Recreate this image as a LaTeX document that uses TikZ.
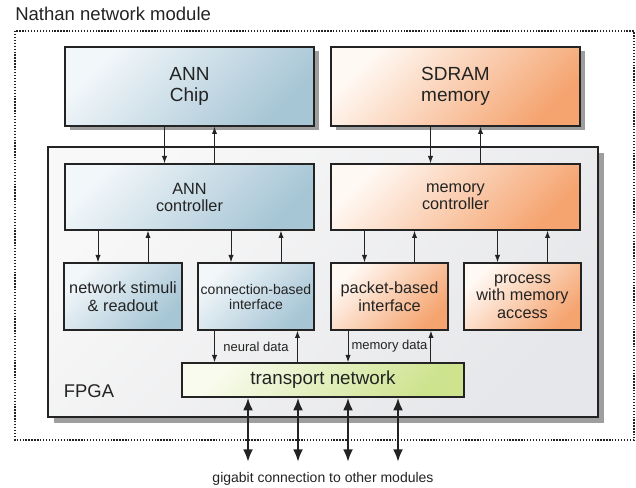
\documentclass[tikz,border=0pt]{standalone}
\usepackage{fontspec}
\setmainfont{Liberation Sans}
\usepackage{tikz}
\usetikzlibrary{arrows.meta,shadows}

\definecolor{annlight}{RGB}{242,247,250}
\definecolor{anndark}{RGB}{166,197,213}
\definecolor{memlight}{RGB}{255,249,244}
\definecolor{memdark}{RGB}{245,164,112}
\definecolor{netlight}{RGB}{249,251,238}
\definecolor{netdark}{RGB}{205,227,142}
\definecolor{fpgalight}{RGB}{248,248,248}
\definecolor{fpgadark}{RGB}{230,231,234}
\definecolor{ink}{RGB}{35,35,35}

\tikzset{
  box/.style={draw=ink, line width=1pt, text=ink, align=center, inner sep=0pt},
  annbox/.style={box, top color=annlight, bottom color=anndark, shading angle=45},
  membox/.style={box, top color=memlight, bottom color=memdark, shading angle=45},
  netbox/.style={box, top color=netlight, bottom color=netdark, shading angle=45},
  fpgabox/.style={box, top color=fpgalight, bottom color=fpgadark, shading angle=45,
    drop shadow={shadow xshift=4.5pt, shadow yshift=-4.5pt, fill=black!38, opacity=1}},
  chipbox/.style={minimum width=186.75pt, minimum height=59.25pt,
    font=\fontsize{14.25}{15.75}\selectfont,
    drop shadow={shadow xshift=3.75pt, shadow yshift=-3pt, fill=black!38, opacity=1}},
  ctlbox/.style={minimum width=186.75pt, minimum height=49.5pt,
    font=\fontsize{12.2}{12.75}\selectfont},
  subbox/.style={minimum width=87.75pt, minimum height=50.25pt,
    font=\fontsize{12.2}{13.2}\selectfont},
  arr/.style={draw=ink, line width=0.75pt, -{Latex[length=5.5pt,width=4pt]}},
  gbit/.style={draw=ink, line width=1.8pt, {Latex[length=9.5pt,width=7.5pt]}-{Latex[length=9.5pt,width=7.5pt]}},
  lbl/.style={text=ink, font=\fontsize{9.75}{11}\selectfont, inner sep=0pt}
}

\begin{document}
\begin{tikzpicture}[x=0.75pt,y=-0.75pt]
\useasboundingbox (0,0) rectangle (636,488);

% module frame
\node[anchor=base west, inner sep=0pt, text=ink, font=\fontsize{13.9}{15}\selectfont]
  (title) at (15,21) {Nathan network module};
\draw[ink, line width=1.5pt, dash pattern=on 1pt off 1.2pt] (15,31) rectangle (634,440);

% fpga
\node[fpgabox, minimum width=412.5pt, minimum height=202.5pt] (fpga) at (323,282) {};
\node[text=ink, font=\fontsize{13.8}{15}\selectfont, inner sep=0pt] (fpgalbl) at (89,391.5) {FPGA};

% off-chip parts
\node[annbox, chipbox] (chip) at (189.5,86.5) {ANN\\Chip};
\node[membox, chipbox] (sdram) at (455.5,86.5) {SDRAM\\memory};

% controllers
\node[annbox, ctlbox] (annctl) at (189.5,197) {ANN\\controller};
\node[membox, ctlbox] (memctl) at (455.5,197) {memory\\controller};

% sub blocks
\node[annbox, subbox, minimum width=88.5pt] (stim) at (123,296.5) {network stimuli\\\& readout};
\node[annbox, subbox, minimum width=87pt, font=\fontsize{10.5}{11.25}\selectfont]
  (conn) at (256,296.5) {connection-based\\interface};
\node[membox, subbox] (pkt) at (389.5,296.5) {packet-based\\interface};
\node[membox, subbox] (proc) at (522.5,296.5) {process\\with memory\\access};

\node[netbox, minimum width=211.5pt, minimum height=25.5pt, font=\fontsize{14.1}{15}\selectfont]
  (tn) at (323,380) {transport network};

% controller <-> upper parts
\foreach \b/\c in {annctl/chip, memctl/sdram}{
  \coordinate (\b-in) at ([xshift=-18.75pt]\b.north);
  \coordinate (\b-out) at ([xshift=18.75pt]\b.north);
  \draw[arr] (\c.south -| \b-in) -- (\b-in);
  \draw[arr] (\b-out) -- (\c.south -| \b-out);
}

% controller <-> sub blocks
\foreach \b/\c in {stim/annctl, conn/annctl, pkt/memctl, proc/memctl}{
  \coordinate (\b-in) at ([xshift=-18.75pt]\b.north);
  \coordinate (\b-out) at ([xshift=18.75pt]\b.north);
  \draw[arr] (\c.south -| \b-in) -- (\b-in);
  \draw[arr] (\b-out) -- (\c.south -| \b-out);
}

% interfaces <-> transport network
\foreach \b/\t in {conn/neural data, pkt/memory data}{
  \coordinate (\b-dn) at ([xshift=-31.1pt]\b.south);
  \coordinate (\b-up) at ([xshift=31.1pt]\b.south);
  \draw[arr] (\b-dn) -- (\b-dn |- tn.north);
  \draw[arr] (\b-up |- tn.north) -- (\b-up);
  \path (\b.south) -- node[lbl] {\t} (\b.south |- tn.north);
}

% gigabit links
\node[text=ink, font=\fontsize{10.5}{12}\selectfont, inner sep=0pt] (gig) at (323,479)
  {gigabit connection to other modules};
\coordinate (gend) at (323,462);
\foreach \dx [count=\i] in {-75,-25,25,75}{
  \coordinate (t\i) at ([xshift=\dx*0.75pt]tn.south);
  \draw[gbit] (t\i) -- (t\i |- gend);
}
\end{tikzpicture}
\end{document}
